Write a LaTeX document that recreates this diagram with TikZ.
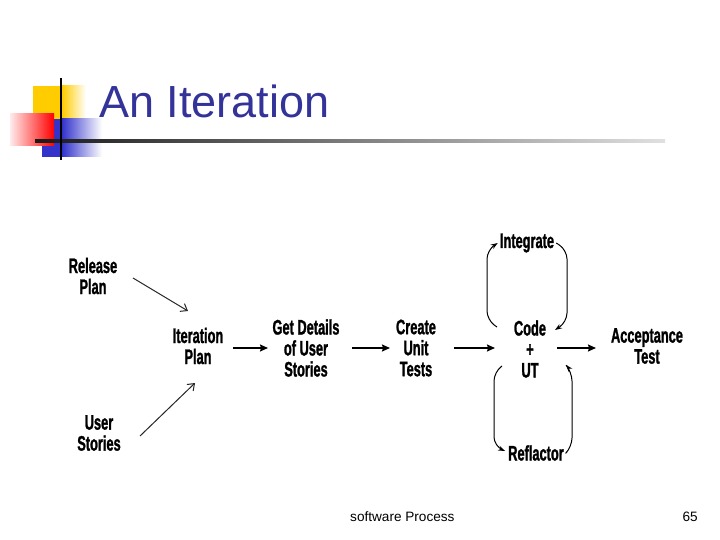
\documentclass[tikz,border=0pt]{standalone}
\usepackage{fontspec}
\setmainfont{Liberation Sans}
\newfontfamily\lblfont[FakeStretch=0.61,FakeBold=1.2]{Liberation Sans Bold}
\usetikzlibrary{arrows.meta,calc}
\definecolor{titleblue}{RGB}{51,51,153}
\definecolor{decoyellow}{RGB}{255,204,0}
\definecolor{decoblue}{RGB}{51,51,204}
\begin{document}
\begin{tikzpicture}[x=1pt,y=-1pt,
  lbl/.style={font=\lblfont\fontsize{21}{21}\selectfont, align=center, inner sep=0pt},
  thin arr/.style={-{Straight Barb[length=6pt,width=9pt,line width=1pt]}, line width=1pt, black!85},
  arr/.style={-{Stealth[length=8pt,width=7pt,inset=1pt]}, line width=1.6pt},
  loop/.style={-{Stealth[length=7pt,width=5pt]}, line width=1pt, rounded corners=9pt}]
\useasboundingbox (0,0) rectangle (720,540);
\fill[white] (0,0) rectangle (720,540);
% decoration
\fill[decoyellow] (33,86) rectangle (62,119);
\shade[left color=decoyellow, right color=white] (62,86) rectangle (86,119);
\fill[decoblue] (42,119) rectangle (62,157);
\shade[left color=decoblue, right color=white] (62,119) rectangle (102,157);
\shade[shading angle=60, left color=red!8, right color=red] (10,114) rectangle (54,146);
\shade[left color=black!90, right color=black!12] (35,139.8) rectangle (665,142.3);
\draw[line width=2.2pt] (61,78) -- (61,160);
% title
\node[anchor=base west, inner sep=0pt, text=titleblue, font=\fontsize{45}{48}\selectfont] (title) at (99,118) {An Iteration};
% labels
\node[lbl] (rel) at (93,276) {Release\\Plan};
\node[lbl] (itp) at (198,346) {Iteration\\Plan};
\node[lbl] (us) at (99,433) {User\\Stories};
\node[lbl] (gd) at (306,348) {Get Details\\of User\\Stories};
\node[lbl] (cut) at (416,348) {Create\\Unit\\Tests};
\node[lbl] (code) at (530,349) {Code\\+\\UT};
\node[lbl] (acc) at (647,346) {Acceptance\\Test};
\node[lbl] (int) at (527,243) {Integrate};
\node[lbl] (ref) at (536,453) {Reflactor};
% coordinates
\coordinate (relS) at (133,278);
\coordinate (itpA) at (188,311);
\coordinate (usS) at (140,436);
\coordinate (itpB) at (195,383);
\coordinate (a1) at (233,348);
\coordinate (a2) at (268,348);
\coordinate (cA) at (497,327);
\coordinate (cB) at (555,330);
\coordinate (cC) at (502,366);
\coordinate (cD) at (566,365);
% arrows
\draw[thin arr] (relS) -- (itpA);
\draw[thin arr] (usS) -- (itpB);
\draw[arr] (a1) -- (a2);
\draw[arr] (352,348) -- (390,348);
\draw[arr] (454,348) -- (495,348);
\draw[arr] (557,348) -- (596,348);
% loops
\draw[loop] (cA) -- (487,320) -- (487,250) -- ($(int.west)+(-2,0)$);
\draw[loop] ($(int.east)+(2,0)$) -- (567,250) -- (567,322) -- (cB);
\draw[loop] (cC) -- (494,372) -- (494,446) -- ($(ref.west)+(-3,-2)$);
\draw[loop] ($(ref.east)+(3,-1)$) -- (572,447) -- (572,372) -- (cD);
% footer
\node[anchor=base west, inner sep=0pt, font=\fontsize{13.6}{15}\selectfont] (foot) at (350,521) {software Process};
\node[anchor=base east, inner sep=0pt, font=\fontsize{13.6}{15}\selectfont] (page) at (698,521) {65};
\end{tikzpicture}
\end{document}
